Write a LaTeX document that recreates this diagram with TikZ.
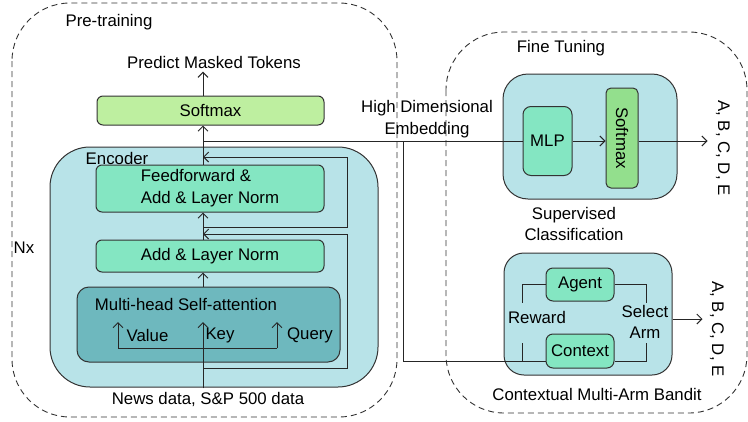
\documentclass[tikz,border=0pt]{standalone}
\usepackage{fontspec}
\setmainfont{Liberation Sans}
\usetikzlibrary{arrows.meta,positioning,calc}
\definecolor{paleblue}{HTML}{B8E3E8}
\definecolor{mint}{HTML}{84E6C2}
\definecolor{palegreen}{HTML}{BEEFA0}
\definecolor{midgreen}{HTML}{93DF8D}
\definecolor{deepteal}{HTML}{6EB8BE}
\definecolor{edge}{HTML}{333333}

\begin{document}
\begin{tikzpicture}[
    x=1pt, y=-1pt,
    font=\fontsize{16.8}{21}\selectfont,
    >={Straight Barb[length=5pt,width=10pt]},
    block/.style={rectangle, rounded corners=6pt, draw=edge, line width=1pt, align=center, inner sep=0pt},
    group/.style={rectangle, draw=edge, line width=1pt, fill=paleblue, inner sep=0pt},
    stage/.style={draw=black!80, line width=0.9pt, dash pattern=on 6pt off 4pt, rounded corners=58pt},
    wire/.style={draw=black!85, line width=1pt}
]
    \useasboundingbox (0,0) rectangle (748,421);

    % Stages
    \draw[stage] (12,3) rectangle (397,417);
    \draw[stage] (446,32) rectangle (747,413);
    \node (pretrain) at (109,22) {Pre-training};
    \node (finetune) at (561,48) {Fine Tuning};
    \node (nx) at (24,248) {Nx};

    % Pre-training
    \node (predict) at (214,62) {Predict Masked Tokens};
    \node[block, fill=palegreen, minimum width=227, minimum height=29] (sm1) at (210.5,110.5) {Softmax};

    \node[group, rounded corners=40pt, minimum width=328, minimum height=240] (encoder) at (214,267) {};
    \node (enclbl) at (117,158) {Encoder};
    \node[block, fill=mint, minimum width=228, minimum height=47, font=\fontsize{16.8}{22}\selectfont, align=left] (ffn) at (210,188.5) {Feedforward \&\\Add \& Layer Norm};
    \node[block, fill=mint, minimum width=228, minimum height=32] (addnorm) at (210,256) {Add \& Layer Norm};
    \node[block, fill=deepteal, rounded corners=12pt, minimum width=263, minimum height=75] (mha) at (208.5,324.5) {};
    \node (mhalbl) at (186,304) {Multi-head Self-attention};
    \node (value) at (147.5,335) {Value};
    \node (key) at (220,335) {Key};
    \node (query) at (310,335) {Query};
    \node (news) at (208,399) {News data, S\&P 500 data};

    \coordinate (kTop) at (203,322);
    \coordinate (vBot) at (118,348);
    \coordinate (qBot) at (277,348);
    \draw[wire, ->] (news.north -| kTop) -- (kTop);
    \draw[wire] (vBot) -- (qBot);
    \draw[wire, ->] (vBot) -- ++(0,-26);
    \draw[wire, ->] (qBot) -- ++(0,-26);
    \draw[wire, ->] (mha.north -| kTop) -- (addnorm.south -| kTop);
    \draw[wire, ->] (addnorm.north -| kTop) -- (ffn.south -| kTop);
    \draw[wire, ->] (ffn.north -| kTop) -- (sm1.south -| kTop);
    \draw[wire, ->] (sm1.north -| kTop) -- (predict.south -| kTop);

    % residual paths
    \coordinate (r1) at (203,368);
    \coordinate (r1e) at (203,234);
    \coordinate (r2) at (203,227);
    \coordinate (r2e) at (203,157);
    \draw[wire, ->] (r1) -- ++(144,0) |- (r1e);
    \draw[wire, ->] (r2) -- ++(144,0) |- (r2e);

    % Fine tuning
    \node[group, rounded corners=25pt, minimum width=174, minimum height=125] (superv) at (590,136.5) {};
    \node[block, fill=mint, rounded corners=8pt, minimum width=49, minimum height=69] (mlp) at (547.5,141) {MLP};
    \node[block, fill=midgreen, rounded corners=5pt, rotate=-90, minimum width=100, minimum height=32] (sm2) at (622,138) {Softmax};
    \node[align=center] (suplbl) at (574,223.5) {Supervised\\Classification};
    \node[rotate=-90] (out1) at (723,148) {A, B, C, D, E};
    \draw[wire, ->] (mlp.east) -- (mlp.east -| sm2.south);
    \draw[wire, ->] (sm2.north |- mlp.east) -- ++(69,0);

    \node[group, rounded corners=20pt, minimum width=168, minimum height=122] (bandit) at (588,314) {};
    \node[block, fill=mint, rounded corners=7pt, minimum width=68, minimum height=33] (agent) at (580,284.5) {Agent};
    \node[block, fill=mint, rounded corners=7pt, minimum width=68, minimum height=34] (ctx) at (580,351) {Context};
    \node (reward) at (537,317) {Reward};
    \node[align=center] (select) at (645,321.5) {Select\\Arm};
    \node (banditlbl) at (597,394) {Contextual Multi-Arm Bandit};
    \node[rotate=-90] (out2) at (717,329) {A, B, C, D, E};
    \draw[wire, ->] ([yshift=-5pt]bandit.east) -- ++(30,0);

    \draw[wire] (agent.west) -- ++(-23,0) -- ++(0,18);
    \draw[wire] (agent.east) -- ++(32,0) -- ++(0,18);
    \draw[wire] ([yshift=-10pt]ctx.west) -- ++(-23,0) -- ++(0,-18);
    \draw[wire] ([yshift=-10pt]ctx.east) -- ++(32,0) -- ++(0,-18);

    % embedding
    \coordinate (emb) at (203,141);
    \coordinate (split) at (403,141);
    \node[align=center, font=\fontsize{16.8}{22}\selectfont] (emblbl) at (427,119) {High Dimensional\\Embedding};
    \draw[wire] (emb) -- (mlp.west);
    \draw[wire] (split) |- ([yshift=-10pt]ctx.west);
\end{tikzpicture}
\end{document}
